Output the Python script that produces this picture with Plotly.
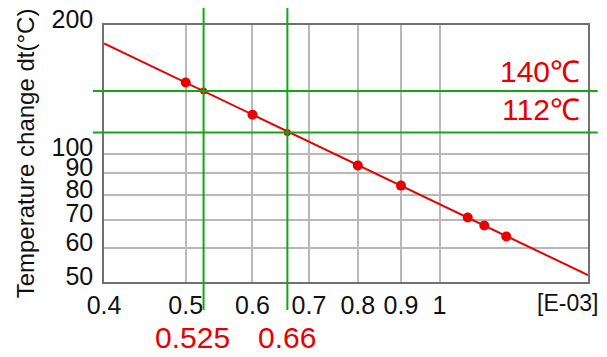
import numpy as np
import plotly.graph_objects as go

# ---- data (x in units of 1E-03) ----
point_x = [0.5, 0.6, 0.8, 0.9, 1.08, 1.13, 1.2]
point_y = [146.7, 123.3, 93.7, 84.1, 70.8, 67.8, 63.9]
fit_x = [0.4, 1.5]
fit_y = [181.0, 51.9]
guide_x = [0.525, 0.66]
guide_y = [140, 112]
guide_x_labels = ["0.525", "0.66"]
guide_y_labels = ["140℃", "112℃"]
x_ticks = [0.4, 0.5, 0.6, 0.7, 0.8, 0.9, 1.0]
x_ticktext = ["0.4", "0.5", "0.6", "0.7", "0.8", "0.9", "1"]
y_ticks = [50, 60, 70, 80, 90, 100, 200]
y_ticktext = ["50", "60", "70", "80", "90", "100", "200"]

RED = "#e60000"
GREEN = "#12a812"
FONT = "Liberation Sans, Arial, sans-serif"

fig = go.Figure()
fig.add_trace(go.Scatter(x=fit_x, y=fit_y, mode="lines",
                         line=dict(color=RED, width=2), showlegend=False))
fig.add_trace(go.Scatter(x=guide_x, y=guide_y, mode="markers",
                         marker=dict(color=RED, size=7), showlegend=False))
fig.add_trace(go.Scatter(x=point_x, y=point_y, mode="markers",
                         marker=dict(color=RED, size=10), showlegend=False))

for gx in guide_x:
    fig.add_shape(type="line", xref="x", yref="paper", x0=gx, x1=gx,
                  y0=1.1, y1=-0.109, line=dict(color=GREEN, width=2))
for gy in guide_y:
    fig.add_shape(type="line", xref="paper", yref="y", x0=-0.023, x1=1.02,
                  y0=gy, y1=gy, line=dict(color=GREEN, width=2))

shifts = [-11, 0]
for gx, lab, sh in zip(guide_x, guide_x_labels, shifts):
    fig.add_annotation(x=np.log10(gx), xref="x", y=0, yref="paper", text=lab,
                       showarrow=False, xanchor="center", yanchor="middle",
                       xshift=sh, yshift=-55, font=dict(size=30, color=RED, family=FONT))
for gy, lab, sh in zip(guide_y, guide_y_labels, [20, 23]):
    fig.add_annotation(x=1, xref="paper", y=np.log10(gy), yref="y", text=lab,
                       showarrow=False, xanchor="right", yanchor="middle",
                       xshift=-6, yshift=sh, font=dict(size=30, color=RED, family=FONT))

fig.add_annotation(x=1, xref="paper", y=0, yref="paper", text="[E-03]",
                   showarrow=False, xanchor="right", yanchor="middle",
                   xshift=12, yshift=-21, font=dict(size=23, color="#111", family=FONT))

fig.update_xaxes(type="log", range=[np.log10(0.4), np.log10(1.5)],
                 tickvals=x_ticks, ticktext=x_ticktext, automargin=False,
                 showgrid=True, gridcolor="#b8b8b8", gridwidth=1.5,
                 showline=True, linecolor="#707070", linewidth=1.5, mirror=True,
                 ticks="", tickfont=dict(size=25, color="#111", family=FONT),
                 zeroline=False)
fig.update_yaxes(type="log", range=[np.log10(50), np.log10(200)],
                 tickvals=y_ticks, ticktext=y_ticktext, automargin=False,
                 showgrid=True, gridcolor="#b8b8b8", gridwidth=1.5,
                 showline=True, linecolor="#707070", linewidth=1.5, mirror=True,
                 ticks="", tickfont=dict(size=25, color="#111", family=FONT),
                 ticklabelshift=-6, ticklabeloverflow="allow",
                 ticklabelstandoff=4, zeroline=False,
                 title=dict(text="Temperature change dt(°C)",
                            font=dict(size=24, color="#111", family=FONT), standoff=10))

# the page body adds an 8px margin, so the figure is 8px smaller and margins shifted
fig.update_layout(width=599, height=349, margin=dict(l=96, r=19, t=17, b=75),
                  plot_bgcolor="white", paper_bgcolor="white",
                  font=dict(family=FONT))
fig.write_html("out.html")
